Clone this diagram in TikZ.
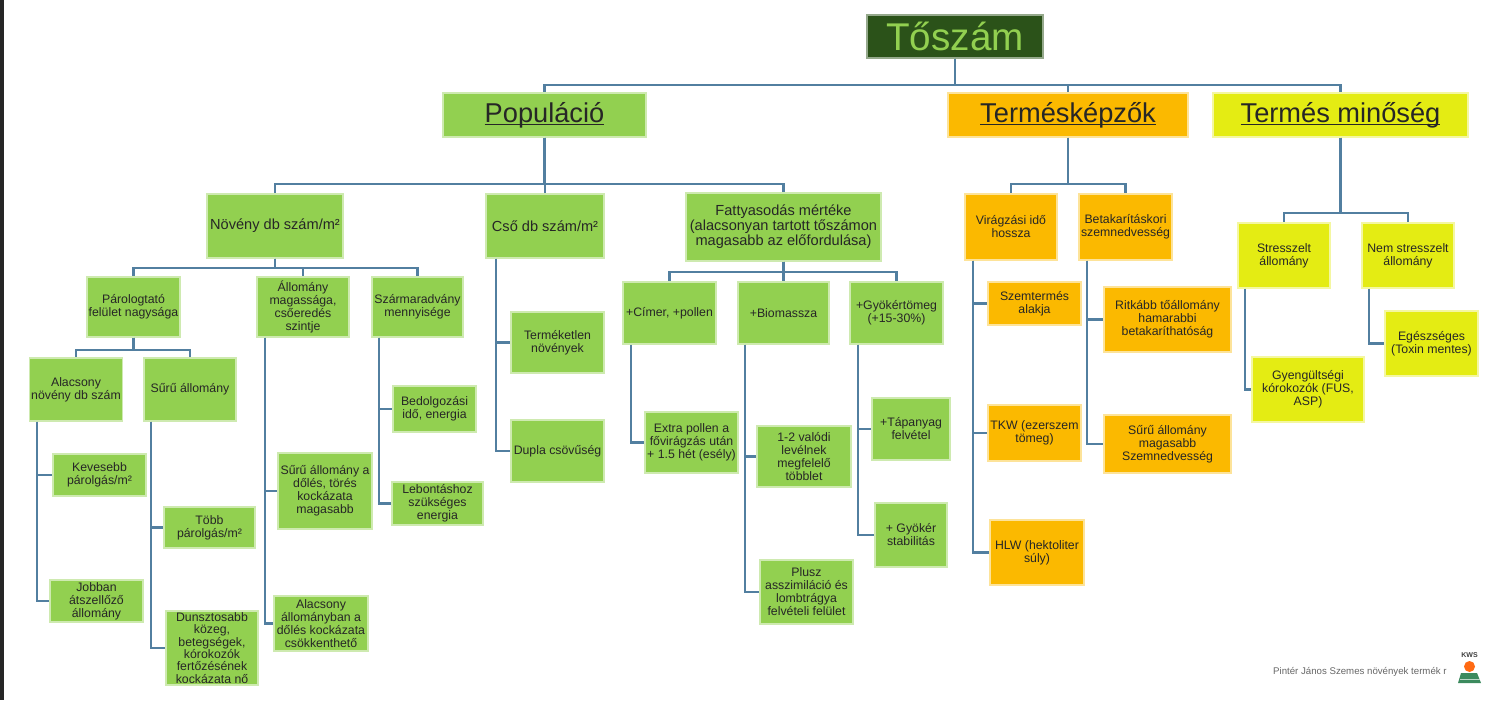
\documentclass[tikz,border=0pt]{standalone}
\usepackage{fontspec}
\setmainfont{Liberation Sans}

\definecolor{zold}{HTML}{92D050}
\definecolor{narancs}{HTML}{FBB900}
\definecolor{sarga}{HTML}{E4EC13}
\definecolor{sotet}{HTML}{2B5219}
\definecolor{vonal}{HTML}{527FA0}
\definecolor{kwsnarancs}{HTML}{FF6A13}
\definecolor{kwszold}{HTML}{3C8A5E}

\newcommand\alahuz[1]{\setbox0\hbox{#1}\rlap{\rule[-1.7pt]{\wd0}{0.6pt}}\box0}

\tikzset{
	gbox/.style = {fill = zold, draw = zold!45!white, line width = 0.7pt, align = center, inner sep = 1pt, text = black!85},
	obox/.style = {gbox, fill = narancs, draw = narancs!40!white},
	ybox/.style = {gbox, fill = sarga, draw = sarga!40!white},
	sz/.style 2 args = {minimum width = #1*0.02cm, minimum height = #2*0.02cm},
	fej/.style = {font = \fontsize{15.5}{17}\selectfont},
	kozep/.style = {font = \fontsize{8.3}{8.6}\selectfont},
	kicsi/.style = {font = \fontsize{7}{7.4}\selectfont},
	conn/.style = {draw = vonal, line width = 1.2pt}
}

\begin{document}
\begin{tikzpicture}[x = 0.02cm, y = -0.02cm]
	\useasboundingbox (0, 0) rectangle (1500, 700);
	\fill[white] (0, 0) rectangle (1500, 700);
	\fill[black!85] (0, 0) rectangle (3.5, 700);

	\node[fill = sotet, draw = sotet!50!white, line width = 0.7pt, text = zold, font = \fontsize{22}{24}\selectfont, sz = {176}{43}, inner sep = 0pt] (tosz) at (955, 36.5) {Tőszám};

	\node[gbox, fej, sz = {203}{44}] (pop) at (544.5, 115) {\alahuz{Populáció}};
	\node[obox, fej, sz = {240}{44}] (term) at (1068, 115) {\alahuz{Termésképzők}};
	\node[ybox, fej, sz = {255}{44}] (minos) at (1340.5, 115) {\alahuz{Termés minőség}};

	\node[gbox, kozep, sz = {136}{64}] (noveny) at (275, 226) {Növény db szám/m²};
	\node[gbox, kozep, sz = {118}{64}] (cso) at (545, 226) {Cső db szám/m²};
	\node[gbox, kozep, sz = {195}{68}] (fatty) at (783.5, 227) {Fattyasodás mértéke\\(alacsonyan tartott tőszámon\\magasabb az előfordulása)};
	\node[obox, kicsi, sz = {92}{66}] (virag) at (1011, 227) {Virágzási idő\\hossza};
	\node[obox, kicsi, sz = {93}{66}] (betak) at (1125.5, 227) {Betakarításkori\\szemnedvesség};
	\node[ybox, kicsi, sz = {92}{65}] (stressz) at (1284, 255.5) {Stresszelt\\állomány};
	\node[ybox, kicsi, sz = {92}{65}] (nemstressz) at (1408, 255.5) {Nem stresszelt\\állomány};

	\node[gbox, kicsi, sz = {93}{60}] (parolog) at (133.5, 307) {Párologtató\\felület nagysága};
	\node[gbox, kicsi, sz = {92}{60}] (allmag) at (303, 307) {Állomány\\magassága,\\csőeredés\\szintje};
	\node[gbox, kicsi, sz = {91}{60}] (szarm) at (417.5, 307) {Szármaradvány\\mennyisége};
	\node[gbox, kicsi, sz = {93}{62}] (cimer) at (669.5, 313) {+Címer, +pollen};
	\node[gbox, kicsi, sz = {91}{62}] (biom) at (783.5, 313) {+Biomassza};
	\node[gbox, kicsi, sz = {93}{62}] (gyoker) at (896.5, 313) {+Gyökértömeg\\(+15-30\%)};

	\node[gbox, kicsi, sz = {93}{61}] (termeketlen) at (557.5, 342.5) {Terméketlen\\növények};
	\node[gbox, kicsi, sz = {93}{62}] (dupla) at (557.5, 451) {Dupla csövűség};

	\node[gbox, kicsi, sz = {92}{63}] (alacs) at (76, 389.5) {Alacsony\\növény db szám};
	\node[gbox, kicsi, sz = {92}{63}] (suru) at (190, 389.5) {Sűrű állomány};
	\node[gbox, kicsi, sz = {93}{42}] (keves) at (99.5, 475) {Kevesebb\\párolgás/m²};
	\node[gbox, kicsi, sz = {93}{42}] (jobban) at (96.5, 601) {Jobban\\átszellőző\\állomány};
	\node[gbox, kicsi, sz = {91}{41}] (tobb) at (209.5, 527.5) {Több\\párolgás/m²};
	\node[gbox, kicsi, sz = {92}{74}, font = \fontsize{7}{7}\selectfont] (dunszt) at (212, 648) {Dunsztosabb\\közeg,\\betegségek,\\kórokozók\\fertőzésének\\kockázata nő};

	\node[gbox, kicsi, sz = {94}{76}] (suruall) at (325, 491) {Sűrű állomány a\\dőlés, törés\\kockázata\\magasabb};
	\node[gbox, kicsi, sz = {94}{55}] (alacsall) at (321, 623.5) {Alacsony\\állományban a\\dőlés kockázata\\csökkenthető};
	\node[gbox, kicsi, sz = {83}{46}] (bedolg) at (434.5, 409) {Bedolgozási\\idő, energia};
	\node[gbox, kicsi, sz = {91}{43}] (lebont) at (437.5, 503.5) {Lebontáshoz\\szükséges\\energia};

	\node[gbox, kicsi, sz = {93}{61}] (extra) at (691.5, 442.5) {Extra pollen a\\fővirágzás után\\+ 1.5 hét (esély)};
	\node[gbox, kicsi, sz = {94}{61}] (level) at (804, 456.5) {1-2 valódi\\levélnek\\megfelelő\\többlet};
	\node[gbox, kicsi, sz = {93}{64}] (plusz) at (806.5, 592) {Plusz\\asszimiláció és\\lombtrágya\\felvételi felület};
	\node[gbox, kicsi, sz = {78}{62}] (tapany) at (911, 429) {+Tápanyag\\felvétel};
	\node[gbox, kicsi, sz = {72}{64}] (gyokst) at (911, 535) {+ Gyökér\\stabilitás};

	\node[obox, kicsi, sz = {93}{43}] (szemt) at (1034.5, 303.5) {Szemtermés\\alakja};
	\node[obox, kicsi, sz = {93}{56}] (tkw) at (1034.5, 433) {TKW (ezerszem\\tömeg)};
	\node[obox, kicsi, sz = {94}{65}] (hlw) at (1037, 552.5) {HLW (hektoliter\\súly)};
	\node[obox, kicsi, sz = {127}{65}] (ritkabb) at (1167.5, 319.5) {Ritkább tőállomány\\hamarabbi\\betakaríthatóság};
	\node[obox, kicsi, sz = {127}{58}] (suruszem) at (1167.5, 444) {Sűrű állomány\\magasabb\\Szemnedvesség};

	\node[ybox, kicsi, sz = {112}{65}] (gyeng) at (1308, 389.5) {Gyengültségi\\kórokozók (FUS,\\ASP)};
	\node[ybox, kicsi, sz = {93}{65}] (egesz) at (1431.5, 343.5) {Egészséges\\(Toxin mentes)};

	\draw[conn] (tosz.south) -- ++(0, 26) -| (pop.north);
	\draw[conn] (tosz.south) -- ++(0, 26) -| (term.north);
	\draw[conn] (tosz.south) -- ++(0, 26) -| (minos.north);

	\draw[conn] (pop.south) -- ++(0, 46) -| (noveny.north);
	\draw[conn] (pop.south) -- ++(0, 46) -| (cso.north);
	\draw[conn] (pop.south) -- ++(0, 46) -| (fatty.north);
	\draw[conn] (term.south) -- ++(0, 46) -| (virag.north);
	\draw[conn] (term.south) -- ++(0, 46) -| (betak.north);
	\draw[conn] (minos.south) -- ++(0, 75) -| (stressz.north);
	\draw[conn] (minos.south) -- ++(0, 75) -| (nemstressz.north);

	\draw[conn] (noveny.south) -- ++(0, 9) -| (parolog.north);
	\draw[conn] (noveny.south) -- ++(0, 9) -| (allmag.north);
	\draw[conn] (noveny.south) -- ++(0, 9) -| (szarm.north);
	\draw[conn] (fatty.south) -- ++(0, 10) -| (cimer.north);
	\draw[conn] (fatty.south) -- ++(0, 10) -| (biom.north);
	\draw[conn] (fatty.south) -- ++(0, 10) -| (gyoker.north);
	\draw[conn] (parolog.south) -- ++(0, 12) -| (alacs.north);
	\draw[conn] (parolog.south) -- ++(0, 12) -| (suru.north);

	\draw[conn] (cso.south west) ++(11, 0) |- (termeketlen.west);
	\draw[conn] (cso.south west) ++(11, 0) |- (dupla.west);
	\draw[conn] (alacs.south west) ++(8, 0) |- (keves.west);
	\draw[conn] (alacs.south west) ++(8, 0) |- (jobban.west);
	\draw[conn] (suru.south west) ++(8, 0) |- (tobb.west);
	\draw[conn] (suru.south west) ++(8, 0) |- (dunszt.west);
	\draw[conn] (allmag.south west) ++(9, 0) |- (suruall.west);
	\draw[conn] (allmag.south west) ++(9, 0) |- (alacsall.west);
	\draw[conn] (szarm.south west) ++(8, 0) |- (bedolg.west);
	\draw[conn] (szarm.south west) ++(8, 0) |- (lebont.west);
	\draw[conn] (cimer.south west) ++(9, 0) |- (extra.west);
	\draw[conn] (biom.south west) ++(8, 0) |- (level.west);
	\draw[conn] (biom.south west) ++(8, 0) |- (plusz.west);
	\draw[conn] (gyoker.south west) ++(9, 0) |- (tapany.west);
	\draw[conn] (gyoker.south west) ++(9, 0) |- (gyokst.west);
	\draw[conn] (virag.south west) ++(9, 0) |- (szemt.west);
	\draw[conn] (virag.south west) ++(9, 0) |- (tkw.west);
	\draw[conn] (virag.south west) ++(9, 0) |- (hlw.west);
	\draw[conn] (betak.south west) ++(9, 0) |- (ritkabb.west);
	\draw[conn] (betak.south west) ++(9, 0) |- (suruszem.west);
	\draw[conn] (stressz.south west) ++(8, 0) |- (gyeng.west);
	\draw[conn] (nemstressz.south west) ++(8, 0) |- (egesz.west);

	\node[font = \fontsize{5.5}{6}\selectfont, text = black!60, anchor = east, inner sep = 0pt] (forras) at (1447, 672) {Pintér János Szemes növények termék r};
	\node[font = \fontsize{4}{4}\selectfont\bfseries, text = black!75, inner sep = 0pt] (kws) at (1469.5, 655) {KWS};
	\fill[kwsnarancs] (1469.5, 666.5) circle (0.11cm);
	\fill[kwszold] (1461, 673) -- (1477, 673) -- (1481, 683) -- (1458, 683) -- cycle;
	\draw[kwszold!35!white, line width = 0.5pt] (1459.5, 679) -- (1479.5, 679);
\end{tikzpicture}
\end{document}
